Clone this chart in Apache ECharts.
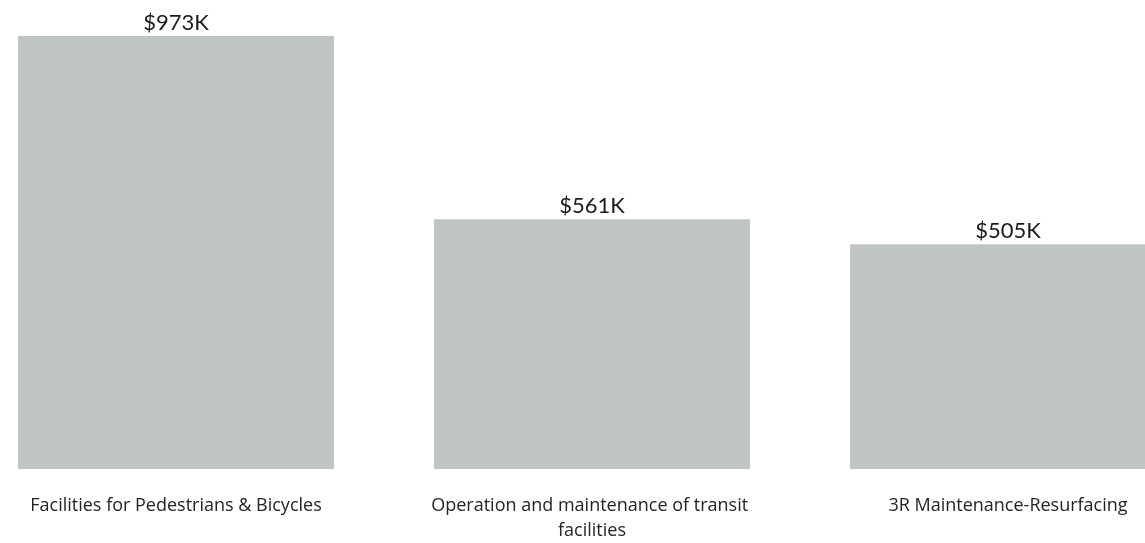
<!DOCTYPE html>
<html>
<head>
<meta charset="utf-8">
<script src="https://cdn.jsdelivr.net/npm/echarts@6/dist/echarts.min.js"></script>
<style>
html,body{margin:0;padding:0;background:#fff;overflow:hidden;width:1145px;height:543px;}
#chart{width:1248px;height:543px;margin-left:-32px;}
</style>
</head>
<body>
<div id="chart"></div>
<script>
const categories = [
  "Facilities for Pedestrians & Bicycles",
  "Operation and maintenance of transit facilities",
  "3R Maintenance-Resurfacing"
];
const values = [973, 561, 505];

const chart = echarts.init(document.getElementById('chart'), null, {renderer: 'canvas'});
chart.setOption({
  animation: false,
  backgroundColor: '#ffffff',
  grid: {left: 0, right: 0, top: 36, bottom: 72, containLabel: false},
  xAxis: {
    type: 'category',
    data: categories,
    axisLine: {show: false},
    axisTick: {show: false},
    axisLabel: {
      interval: 0,
      margin: 24,
      width: 340,
      overflow: 'break',
      lineHeight: 25,
      fontSize: 18,
      fontFamily: 'Open Sans',
      color: '#252423',
      align: 'center'
    }
  },
  yAxis: {
    type: 'value',
    min: 0,
    max: 'dataMax',
    show: false,
    splitLine: {show: false}
  },
  series: [{
    type: 'bar',
    data: values,
    barWidth: 316,
    itemStyle: {color: '#bfc5c4'},
    label: {
      show: true,
      position: 'top',
      distance: 2,
      formatter: p => '$' + p.value + 'K',
      fontFamily: 'Lato',
      fontSize: 22,
      fontWeight: 'normal',
      color: '#1a1a1a'
    }
  }]
});
</script>
</body>
</html>
